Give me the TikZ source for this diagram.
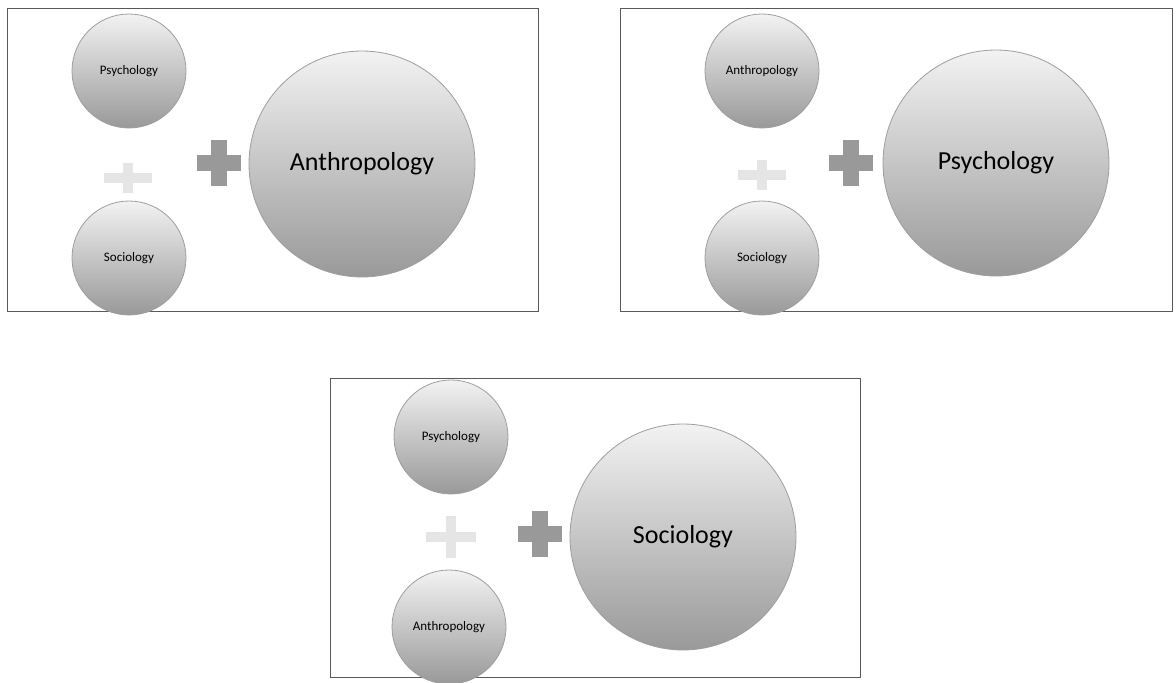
\documentclass[tikz,border=0pt]{standalone}
\usepackage{fontspec}
\setmainfont{Carlito}
\usepackage{tikz}
\usetikzlibrary{calc}
\definecolor{FrameInk}{gray}{0.35}
\definecolor{RimInk}{gray}{0.62}
\definecolor{TopShade}{gray}{0.95}
\definecolor{LowShade}{gray}{0.6}
\definecolor{PlusShade}{gray}{0.6}
\definecolor{FaintShade}{gray}{0.9}
\newcommand{\PlusSign}[5]{%
  \fill[#5] ($(#1)+(-#2,-#4)$) rectangle ($(#1)+(#2,#4)$);
  \fill[#5] ($(#1)+(-#4,-#3)$) rectangle ($(#1)+(#4,#3)$);
}

\begin{document}
\begin{tikzpicture}[
  x=1pt,y=-1pt,
  panel/.style={draw=FrameInk,line width=0.9pt},
  bubble/.style={circle,draw=RimInk,line width=0.8pt,top color=TopShade,bottom color=LowShade,
                 inner sep=0pt,text=black},
  small bubble/.style={bubble,minimum size=114pt,font=\fontsize{13}{15}\selectfont},
  big bubble/.style={bubble,minimum size=226pt,font=\fontsize{26}{30}\selectfont},
]
  \useasboundingbox (0,0) rectangle (1176,683);

  \draw[panel] (7,8) rectangle (538,311);
  \node[small bubble] (psyA) at (129,71) {Psychology};
  \node[small bubble] (socA) at (129,258) {Sociology};
  \PlusSign{128,178}{24}{15}{5}{FaintShade}
  \PlusSign{219,163}{22}{23}{8}{PlusShade}
  \node[big bubble] (antA) at (362,164) {Anthropology};

  \draw[panel] (620,8) rectangle (1172,311);
  \node[small bubble] (antB) at (762,71) {Anthropology};
  \node[small bubble] (socB) at (762,258) {Sociology};
  \PlusSign{762,175}{24}{15}{5}{FaintShade}
  \PlusSign{851,163}{22}{23}{8}{PlusShade}
  \node[big bubble] (psyB) at (996,163) {Psychology};

  \draw[panel] (330,378) rectangle (860,677);
  \node[small bubble] (psyC) at (451,437) {Psychology};
  \node[small bubble] (antC) at (449,627) {Anthropology};
  \PlusSign{451,537}{25}{21}{5}{FaintShade}
  \PlusSign{540,534}{22}{23}{8}{PlusShade}
  \node[big bubble] (socC) at (683,537) {Sociology};
\end{tikzpicture}
\end{document}
